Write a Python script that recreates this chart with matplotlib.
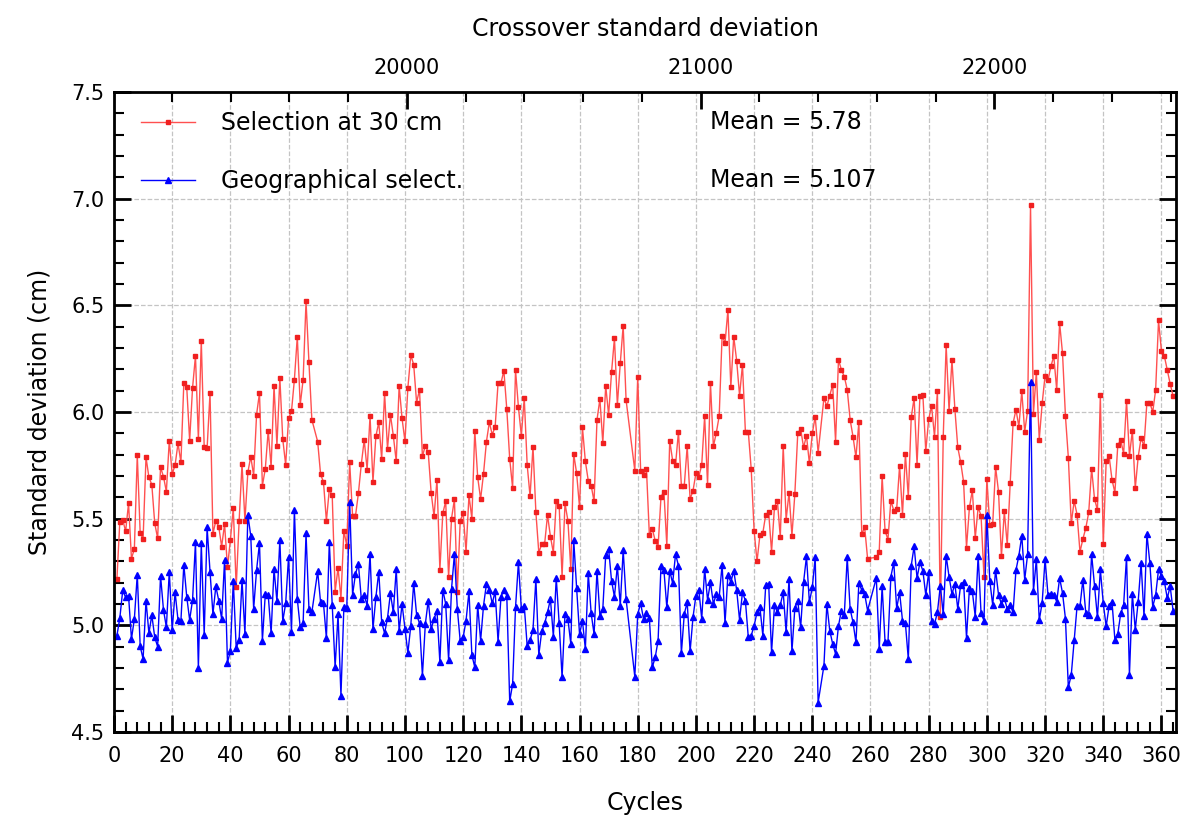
import matplotlib
matplotlib.use('Agg')
import matplotlib.pyplot as plt
from matplotlib.ticker import MultipleLocator

# cycles without data (both series skip them)
missing = [69, 177, 178, 243, 260, 261]
cycles = [c for c in range(1, 365) if c not in missing]

red = [5.217, 5.486, 5.494, 5.441, 5.572, 5.313, 5.358, 5.798, 5.433, 5.405,
       5.788, 5.694, 5.659, 5.478, 5.408, 5.741, 5.697, 5.627, 5.866, 5.709,
       5.752, 5.853, 5.764, 6.136, 6.116, 5.866, 6.114, 6.263, 5.872, 6.334,
       5.834, 5.830, 6.089, 5.428, 5.491, 5.463, 5.369, 5.475, 5.272, 5.400,
       5.550, 5.178, 5.488,
       5.756, 5.491, 5.717, 5.791, 5.702, 5.988, 6.089, 5.655, 5.733, 5.913,
       5.741, 6.123, 5.842, 6.159, 5.873, 5.753, 5.970, 6.003, 6.152, 6.353,
       6.033, 6.152, 6.519, 6.233, 5.964,
       5.861, 5.708, 5.672, 5.489, 5.638, 5.609, 5.158, 5.269, 5.125, 5.444,
       5.373, 5.764, 5.513, 5.513, 5.619, 5.756, 5.869, 5.730, 5.981,
       5.673, 5.886, 5.952, 5.780, 6.089, 5.827, 5.988, 5.889, 5.769, 6.123,
       5.970, 5.863, 6.113, 6.267, 6.222, 6.044, 6.105, 5.792, 5.842, 5.811,
       5.622, 5.511, 5.683, 5.259, 5.525, 5.581, 5.225, 5.500, 5.591, 5.158,
       5.491, 5.525, 5.345, 5.609, 5.500, 5.913, 5.694, 5.592, 5.711, 5.861,
       5.952, 5.894, 5.931, 6.136,
       6.136, 6.194, 6.013, 5.780, 5.644, 6.198, 6.022, 5.889, 6.066, 5.753,
       5.605, 5.838, 5.530, 5.341, 5.381, 5.381, 5.517, 5.416, 5.341, 5.581,
       5.561, 5.228, 5.572, 5.491, 5.263, 5.803, 5.713, 5.553, 5.928, 5.769,
       5.678, 5.655, 5.581, 5.963, 6.061, 5.855, 6.123, 5.986, 6.186, 6.347,
       6.033, 6.228, 6.405, 6.056,
       5.725, 6.166, 5.725, 5.706, 5.733, 5.423, 5.453, 5.397, 5.369, 5.603,
       5.627, 5.373, 5.866, 5.772, 5.753, 5.908, 5.655, 5.655, 5.839, 5.592,
       5.631, 5.713, 5.697, 5.753, 5.981, 5.659, 6.136, 5.839, 5.902, 5.981,
       6.358, 6.323, 6.478, 6.116, 6.353, 6.241, 6.077, 6.222, 5.908, 5.908,
       5.733, 5.444, 5.300, 5.423,
       5.433, 5.519, 5.530, 5.345, 5.556, 5.584, 5.413, 5.842, 5.494, 5.622,
       5.420, 5.616, 5.900, 5.920, 5.834, 5.889, 5.759, 5.900, 5.978, 5.809,
       6.066, 6.027, 6.077, 6.128, 5.861, 6.245, 6.198, 6.166, 6.105, 5.964,
       5.884, 5.788, 5.952, 5.427, 5.459, 5.313,
       5.319, 5.345, 5.700, 5.444, 5.402, 5.584,
       5.538, 5.545, 5.748, 5.519, 5.803, 5.600, 5.975, 6.066, 5.753, 6.077,
       6.081, 5.816, 5.967, 6.027, 5.884, 6.097, 5.038, 5.884, 6.314, 6.006,
       6.244, 6.014, 5.834, 5.764, 5.672, 5.364, 5.553, 5.634, 5.409, 5.553,
       5.514, 5.228, 5.686, 5.470, 5.475, 5.741, 5.627, 5.323, 5.534, 5.377,
       5.666, 5.947, 6.011, 5.931, 6.097,
       5.908, 6.005, 6.968, 5.992, 6.186, 5.871, 6.040, 6.170, 6.148, 6.214,
       6.262, 6.103, 6.417, 6.275, 5.981, 5.786, 5.478, 5.583, 5.519, 5.344,
       5.405, 5.456, 5.529, 5.735, 5.592, 5.540, 6.079, 5.379, 5.770, 5.794,
       5.683, 5.622, 5.846, 5.868, 5.805, 6.051, 5.794, 5.913, 5.643, 5.789,
       5.878, 5.840, 6.044, 6.044, 6.000, 6.103, 6.429, 6.286, 6.262, 6.198,
       6.132, 6.075]

blue = [4.952, 5.034, 5.164, 5.131, 5.139, 4.936, 5.030, 5.238, 4.902, 4.842,
        5.116, 4.963, 5.048, 4.944, 4.900, 5.233, 5.073, 4.991, 5.252, 4.978,
        5.155, 5.025, 5.022, 5.284, 5.134, 5.025, 5.119, 5.389, 4.798, 5.384,
        4.956, 5.459, 5.252, 5.053, 5.183, 5.116, 5.030, 5.306, 4.825, 4.881,
        5.209, 4.894, 4.931,
        5.213, 4.959, 5.519, 5.420, 5.077, 5.259, 5.386, 4.928, 5.147, 5.142,
        4.963, 5.264, 5.113, 5.400, 5.019, 5.103, 5.322, 4.967, 5.542, 5.123,
        4.991, 5.009, 5.431, 5.077, 5.061,
        5.253, 5.108, 5.103, 4.939, 5.389, 5.097, 4.803, 5.053, 4.670, 5.084,
        5.081, 5.577, 5.144, 5.241, 5.288, 5.123, 5.142, 5.092, 5.334,
        4.983, 5.131, 5.252, 5.014, 4.963, 5.034, 5.150, 5.061, 5.264, 4.972,
        5.100, 4.983, 4.870, 4.998, 5.198, 5.050, 5.009, 4.764, 5.006, 5.116,
        4.983, 5.030, 5.069, 4.827, 5.167, 5.100, 4.837, 5.170, 5.334, 5.077,
        4.925, 4.944, 5.022, 5.159, 4.861, 4.803, 5.095, 4.928, 5.092, 5.194,
        5.167, 5.103, 5.159, 4.923,
        5.134, 5.166, 5.139, 4.644, 4.725, 5.084, 5.295, 5.077, 5.092, 4.905,
        4.931, 4.978, 5.217, 4.861, 4.972, 5.009, 5.061, 5.123, 4.947, 5.222,
        5.009, 4.756, 5.053, 5.030, 4.913, 5.400, 5.175, 4.959, 5.022, 4.889,
        5.244, 5.056, 4.959, 5.256, 5.045, 5.077, 5.331, 5.358, 5.209, 5.134,
        5.280, 5.092, 5.353, 5.123,
        4.759, 5.053, 5.103, 5.030, 5.056, 5.034, 4.803, 4.850, 4.928, 5.280,
        5.259, 5.084, 5.256, 5.197, 5.334, 5.280, 4.869, 5.053, 5.108, 4.878,
        5.038, 5.139, 5.166, 5.030, 5.264, 5.119, 5.202, 5.100, 5.147, 5.134,
        5.284, 5.009, 5.238, 5.202, 5.256, 5.166, 5.025, 5.155, 5.116, 4.944,
        4.952, 4.998, 5.061, 5.084,
        4.952, 5.191, 5.194, 4.873, 5.095, 5.061, 5.095, 5.155, 4.967, 5.217,
        4.878, 5.081, 5.116, 4.991, 5.202, 5.323, 5.108, 5.178, 5.319, 4.638,
        4.811, 5.100, 4.975, 4.913, 4.866, 4.998, 5.069, 5.048, 5.319, 5.077,
        5.014, 4.920, 5.197, 5.166, 5.147, 5.069,
        5.222, 4.889, 5.183, 4.923, 4.920, 5.228,
        5.295, 5.080, 5.155, 5.022, 5.009, 4.842, 5.280, 5.370, 5.222, 5.295,
        5.256, 5.142, 5.248, 5.022, 5.006, 5.061, 5.186, 5.053, 5.327, 5.228,
        5.147, 5.194, 5.077, 5.191, 5.202, 4.941, 5.175, 5.159, 5.041, 5.327,
        5.056, 5.022, 5.519, 5.209, 5.095, 5.259, 5.144, 5.100, 5.128, 5.077,
        5.095, 5.061, 5.259, 5.327, 5.420,
        5.214, 5.333, 6.140, 5.159, 5.310, 5.024, 5.106, 5.310, 5.143, 5.148,
        5.143, 5.111, 5.222, 5.151, 5.032, 4.710, 4.767, 4.929, 5.090, 5.090,
        5.214, 5.056, 5.048, 5.333, 5.183, 5.037, 5.262, 5.103, 4.995, 5.090,
        5.111, 4.932, 4.960, 5.056, 5.095, 5.322, 4.767, 5.148, 4.979, 5.111,
        5.294, 5.043, 5.429, 5.294, 5.087, 5.141, 5.262, 5.230, 5.206, 5.127,
        5.183, 5.068]

red_label = 'Selection at 30 cm'
blue_label = 'Geographical select.'
mean_texts = ['Mean = 5.78', 'Mean = 5.107']
top_lim = (19003, 22618)

fig = plt.figure(figsize=(11.83, 8.15), dpi=100)
ax = fig.add_axes([114 / 1183, 1 - 732 / 815, (1176 - 114) / 1183, (732 - 92) / 815])

ax.grid(True, color='#c4c4c4', linestyle='--', linewidth=0.9)
ax.set_axisbelow(True)
ax.plot(cycles, red, color='#ff5050', lw=1.0, marker='s', ms=3.4,
        mfc='#f02020', mec='#f02020', label=red_label)
ax.plot(cycles, blue, color='#0000ff', lw=1.0, marker='^', ms=3.9,
        mfc='#0000ff', mec='#0000ff', label=blue_label)

ax.set_xlim(0, 365)
ax.set_ylim(4.5, 7.5)
ax.xaxis.set_major_locator(MultipleLocator(20))
ax.xaxis.set_minor_locator(MultipleLocator(4))
ax.yaxis.set_major_locator(MultipleLocator(0.5))
ax.yaxis.set_minor_locator(MultipleLocator(0.1))
ax.yaxis.set_major_formatter(plt.FormatStrFormatter('%.1f'))
ax.tick_params(which='both', direction='in', top=False, right=True, labelsize=15)
ax.tick_params(which='major', length=12, width=2)
ax.tick_params(which='minor', length=7, width=1.5)
ax.tick_params(axis='x', pad=10)
ax.tick_params(axis='y', pad=7)
for s in ax.spines.values():
    s.set_linewidth(2)

ax.set_xlabel('Cycles', fontsize=17, labelpad=18)
ax.set_ylabel('Standard deviation (cm)', fontsize=17, labelpad=14)

ax.text(204.8, 7.359, mean_texts[0], fontsize=17, va='center', ha='left')
ax.text(204.8, 7.087, mean_texts[1], fontsize=17, va='center', ha='left')

ax.legend(loc='upper left', bbox_to_anchor=(27 / 1062, 1 - 19 / 640), frameon=False,
          fontsize=17, numpoints=1, borderpad=0, borderaxespad=0,
          handlelength=2.3, handletextpad=1.1, labelspacing=1.43)

ax2 = ax.twiny()
ax2.set_xlim(top_lim)
ax2.xaxis.set_major_locator(MultipleLocator(1000))
ax2.xaxis.set_minor_locator(MultipleLocator(200))
ax2.tick_params(which='both', direction='in', labelsize=15, pad=10)
ax2.tick_params(which='major', length=12, width=2)
ax2.tick_params(which='minor', length=7, width=1.5)
ax2.set_xlabel('Crossover standard deviation', fontsize=17, labelpad=16)

fig.savefig('out.png', dpi=100)
